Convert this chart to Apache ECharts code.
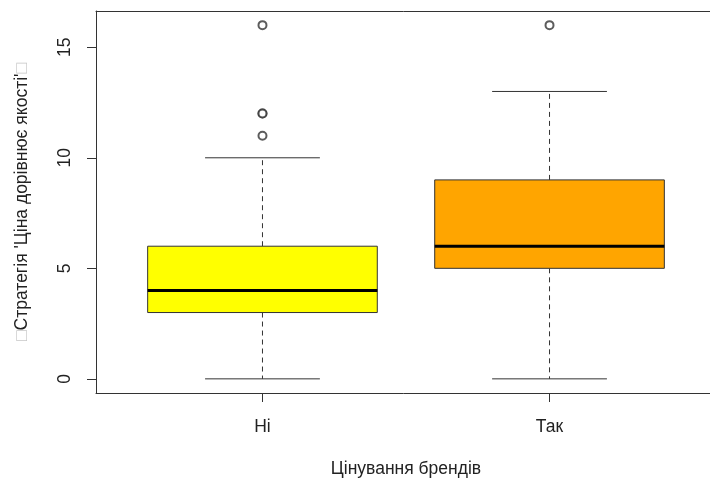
<!DOCTYPE html>
<html>
<head>
<meta charset="utf-8">
<script src="https://cdn.jsdelivr.net/npm/echarts@6/dist/echarts.min.js"></script>
<style>
  html, body { margin: 0; padding: 0; background: #ffffff; }
  #chart { width: 710px; height: 479px; }
</style>
</head>
<body>
<div id="chart"></div>
<script>
// Groups along the x axis (placed at positions 1 and 2)
const categories = ['Ні', 'Так'];
const positions = [1, 2];

// Five-number summaries per group
const lowerWhisker = [0, 0];
const q1 = [3, 5];
const median = [4, 6];
const q3 = [6, 9];
const upperWhisker = [10, 13];

// Points beyond the whiskers
const outliers = [[11, 12, 12, 16], [16]];

// Box fills
const boxColors = ['#FFFF00', '#FFA500'];

// Y axis tick values
const yTicks = [0, 5, 10, 15];

const xTitle = 'Цінування брендів';
const yTitle = 'Стратегія \'Ціна дорівнює якості\'';

const boxData = positions.map((p, i) => [p, lowerWhisker[i], q1[i], median[i], q3[i], upperWhisker[i]]);
const outlierData = [];
outliers.forEach((arr, i) => arr.forEach(v => outlierData.push([positions[i], v])));

const BOX_HALF = 0.4;   // half box width in x units
const CAP_HALF = 0.2;   // half whisker-cap width in x units
const FONT = '"Liberation Sans", Arial, sans-serif';
const FS = 17.5;
const FRAME = { show: true, onZero: false, lineStyle: { color: '#333', width: 1 } };

function renderBox(params, api) {
  const x = api.value(0);
  const lw = api.coord([x, api.value(1)]);
  const b1 = api.coord([x, api.value(2)]);
  const md = api.coord([x, api.value(3)]);
  const b3 = api.coord([x, api.value(4)]);
  const uw = api.coord([x, api.value(5)]);
  const left = api.coord([x - BOX_HALF, 0])[0];
  const right = api.coord([x + BOX_HALF, 0])[0];
  const capL = api.coord([x - CAP_HALF, 0])[0];
  const capR = api.coord([x + CAP_HALF, 0])[0];
  const cx = lw[0];
  const lineStyle = { stroke: '#333', lineWidth: 1, fill: null };
  const dashStyle = { stroke: '#333', lineWidth: 1, lineDash: [5, 4], fill: null };
  return {
    type: 'group',
    children: [
      { type: 'line', shape: { x1: cx, y1: b1[1], x2: cx, y2: lw[1] }, style: dashStyle },
      { type: 'line', shape: { x1: cx, y1: b3[1], x2: cx, y2: uw[1] }, style: dashStyle },
      { type: 'line', shape: { x1: capL, y1: lw[1], x2: capR, y2: lw[1] }, style: lineStyle },
      { type: 'line', shape: { x1: capL, y1: uw[1], x2: capR, y2: uw[1] }, style: lineStyle },
      { type: 'rect', shape: { x: left, y: b3[1], width: right - left, height: b1[1] - b3[1] },
        style: { fill: boxColors[params.dataIndex], stroke: '#333', lineWidth: 1 } },
      { type: 'line', shape: { x1: left, y1: md[1], x2: right, y2: md[1] },
        style: { stroke: '#000', lineWidth: 3 } }
    ]
  };
}

const chart = echarts.init(document.getElementById('chart'), null, { renderer: 'canvas' });
chart.setOption({
  backgroundColor: '#ffffff',
  animation: false,
  grid: {
    left: 96, top: 11, width: 620, height: 382,
    outerBoundsMode: 'none',
    containLabel: false,
    show: false
  },
  xAxis: [
    {
      type: 'value',
      position: 'bottom',
      min: 0.42, max: 2.58,
      splitLine: { show: false },
      axisLine: FRAME,
      axisTick: { show: true, customValues: positions, length: 9, lineStyle: { color: '#333' } },
      axisLabel: {
        customValues: positions,
        formatter: v => categories[positions.indexOf(v)] || '',
        color: '#222', fontSize: FS, fontFamily: FONT, margin: 25
      },
      name: xTitle,
      nameLocation: 'middle',
      nameGap: 67,
      nameTextStyle: { color: '#222', fontSize: FS, fontFamily: FONT }
    },
    {
      // top edge of the plot frame
      type: 'value',
      position: 'top',
      min: 0.42, max: 2.58,
      splitLine: { show: false },
      axisLine: FRAME,
      axisTick: { show: false },
      axisLabel: { show: false }
    }
  ],
  yAxis: {
    type: 'value',
    min: -0.64, max: 16.64,
    splitLine: { show: false },
    axisLine: FRAME,
    axisTick: { show: true, customValues: yTicks, length: 9, lineStyle: { color: '#333' } },
    axisLabel: {
      customValues: yTicks,
      rotate: 90,
      color: '#222', fontSize: FS, fontFamily: FONT, margin: 22
    },
    name: '{q|□}' + yTitle + '{q|□}',
    nameLocation: 'middle',
    nameGap: 65,
    nameRotate: 90,
    nameTextStyle: {
      color: '#222', fontSize: FS, fontFamily: FONT,
      rich: { q: { color: '#c8c8c8', fontSize: FS, fontFamily: FONT } }
    }
  },
  series: [
    {
      type: 'custom',
      renderItem: renderBox,
      data: boxData,
      encode: { x: 0, y: [1, 2, 3, 4, 5] },
      clip: false,
      z: 2
    },
    {
      type: 'scatter',
      data: outlierData,
      symbol: 'emptyCircle',
      symbolSize: 8,
      itemStyle: { color: '#333', borderColor: '#333', borderWidth: 1.5 },
      z: 3
    }
  ]
});
</script>
</body>
</html>
